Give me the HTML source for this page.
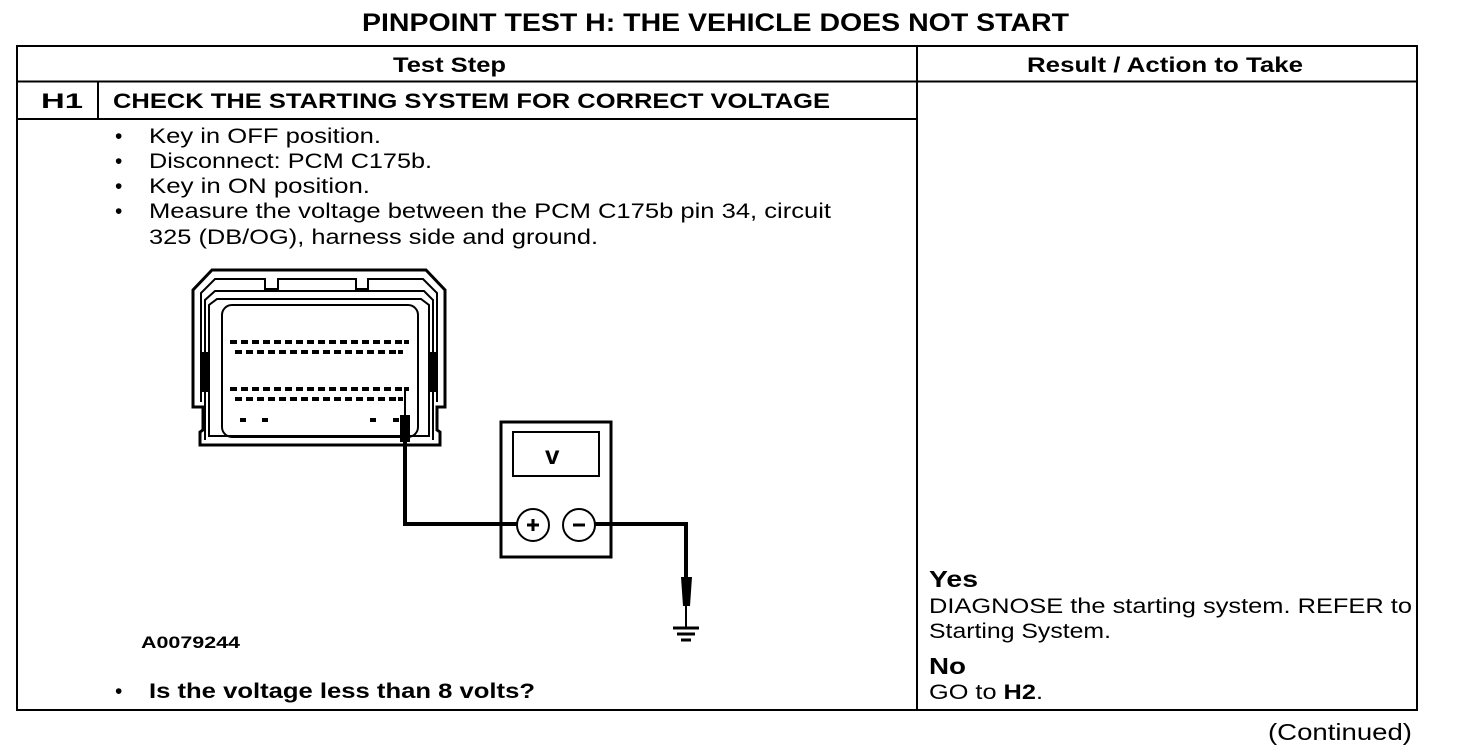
<!DOCTYPE html>
<html><head><meta charset="utf-8"><style>
html,body{margin:0;padding:0;background:#fff;}
svg{display:block;}
text{font-family:"Liberation Sans",Arial,sans-serif;fill:#000;}
.b{font-weight:bold;}
</style></head><body>
<svg width="1472" height="748" viewBox="0 0 1472 748" xmlns="http://www.w3.org/2000/svg">
<!-- title -->
<text x="362" y="31" class="b" font-size="25" textLength="707" lengthAdjust="spacingAndGlyphs">PINPOINT TEST H: THE VEHICLE DOES NOT START</text>
<!-- table -->
<g stroke="#000" stroke-width="2" fill="none">
<rect x="17" y="46" width="1400" height="664"/>
<line x1="17" y1="81.5" x2="1417" y2="81.5"/>
<line x1="917" y1="46" x2="917" y2="710"/>
<line x1="17" y1="119" x2="917" y2="119"/>
<line x1="98" y1="81" x2="98" y2="119"/>
</g>
<text x="393" y="72" class="b" font-size="21" textLength="113" lengthAdjust="spacingAndGlyphs">Test Step</text>
<text x="1027" y="72" class="b" font-size="21" textLength="276" lengthAdjust="spacingAndGlyphs">Result / Action to Take</text>
<text x="41" y="108" class="b" font-size="21" textLength="42" lengthAdjust="spacingAndGlyphs">H1</text>
<text x="113" y="108" class="b" font-size="21" textLength="717" lengthAdjust="spacingAndGlyphs">CHECK THE STARTING SYSTEM FOR CORRECT VOLTAGE</text>
<!-- bullets -->
<g font-size="21">
<text x="115" y="143">•</text><text x="149" y="143" textLength="232" lengthAdjust="spacingAndGlyphs">Key in OFF position.</text>
<text x="115" y="168">•</text><text x="149" y="168" textLength="283" lengthAdjust="spacingAndGlyphs">Disconnect: PCM C175b.</text>
<text x="115" y="193">•</text><text x="149" y="193" textLength="221" lengthAdjust="spacingAndGlyphs">Key in ON position.</text>
<text x="115" y="218">•</text><text x="149" y="218" textLength="682" lengthAdjust="spacingAndGlyphs">Measure the voltage between the PCM C175b pin 34, circuit</text>
<text x="149" y="244" textLength="449" lengthAdjust="spacingAndGlyphs">325 (DB/OG), harness side and ground.</text>
<text x="115" y="698">•</text><text x="149" y="698" class="b" textLength="386" lengthAdjust="spacingAndGlyphs">Is the voltage less than 8 volts?</text>
</g>
<text x="141" y="648" class="b" font-size="17" textLength="99" lengthAdjust="spacingAndGlyphs">A0079244</text>
<!-- right column -->
<text x="929" y="587" class="b" font-size="23" textLength="49" lengthAdjust="spacingAndGlyphs">Yes</text>
<text x="929" y="613" font-size="21" textLength="483" lengthAdjust="spacingAndGlyphs">DIAGNOSE the starting system. REFER to</text>
<text x="929" y="638" font-size="21" textLength="182" lengthAdjust="spacingAndGlyphs">Starting System.</text>
<text x="929" y="674" class="b" font-size="23" textLength="37" lengthAdjust="spacingAndGlyphs">No</text>
<text x="929" y="699" font-size="21" textLength="114" lengthAdjust="spacingAndGlyphs">GO to <tspan class="b">H2</tspan>.</text>
<text x="1268" y="740" font-size="23" textLength="144" lengthAdjust="spacingAndGlyphs">(Continued)</text>

<!-- connector -->
<g stroke="#000" fill="none" stroke-width="3">
<path d="M193,407 L193,290 L212,270 L426,270 L445,290 L445,407 L437,407 L437,430 L440,432 L440,445 L200,445 L200,432 L203,430 L203,407 Z"/>
<path stroke-width="2" d="M201,402 L201,293 L215,279 L265,279 L265,289 L278,289 L278,279 L356,279 L356,289 L368,289 L368,279 L423,279 L437,293 L437,402"/>
<path stroke-width="2" d="M205,440 L205,300 L215,291 L424,291 L433,300 L433,440"/>
<path stroke-width="2" d="M209,436 L209,305 L217,299 L421,299 L429,305 L429,436 Z"/>
<rect x="222" y="305" width="196" height="132" rx="10" stroke-width="2"/>
</g>
<rect x="202" y="352" width="7" height="40" fill="#000"/>
<rect x="430" y="352" width="7" height="40" fill="#000"/>
<g fill="#000">
<g id="r1">
<rect x="230" y="340" width="7" height="4"/><rect x="241" y="340" width="7" height="4"/><rect x="252" y="340" width="7" height="4"/><rect x="263" y="340" width="7" height="4"/><rect x="274" y="340" width="7" height="4"/><rect x="285" y="340" width="7" height="4"/><rect x="296" y="340" width="7" height="4"/><rect x="307" y="340" width="7" height="4"/><rect x="318" y="340" width="7" height="4"/><rect x="329" y="340" width="7" height="4"/><rect x="340" y="340" width="7" height="4"/><rect x="351" y="340" width="7" height="4"/><rect x="362" y="340" width="7" height="4"/><rect x="373" y="340" width="7" height="4"/><rect x="384" y="340" width="7" height="4"/><rect x="395" y="340" width="7" height="4"/><rect x="404" y="340" width="5" height="4"/>
</g>
<g id="r2">
<rect x="235" y="350" width="7" height="4"/><rect x="246" y="350" width="7" height="4"/><rect x="257" y="350" width="7" height="4"/><rect x="268" y="350" width="7" height="4"/><rect x="279" y="350" width="7" height="4"/><rect x="290" y="350" width="7" height="4"/><rect x="301" y="350" width="7" height="4"/><rect x="312" y="350" width="7" height="4"/><rect x="323" y="350" width="7" height="4"/><rect x="334" y="350" width="7" height="4"/><rect x="345" y="350" width="7" height="4"/><rect x="356" y="350" width="7" height="4"/><rect x="367" y="350" width="7" height="4"/><rect x="378" y="350" width="7" height="4"/><rect x="389" y="350" width="7" height="4"/><rect x="398" y="350" width="5" height="4"/>
</g>
<use href="#r1" y="47"/>
<use href="#r2" y="47"/>
<rect x="240" y="418" width="6" height="4"/><rect x="262" y="418" width="6" height="4"/><rect x="370" y="418" width="6" height="4"/><rect x="393" y="418" width="6" height="4"/>
<rect x="400" y="415" width="10" height="27"/>
</g>
<!-- wires -->
<g stroke="#000" fill="none">
<line x1="405" y1="390" x2="405" y2="415" stroke-width="2"/>
<polyline points="405,440 405,524 517,524" stroke-width="4"/>
<polyline points="595,524 686,524 686,578" stroke-width="4"/>
<line x1="686" y1="606" x2="686" y2="628" stroke-width="2"/>
<!-- meter -->
<rect x="501" y="422" width="110" height="135" stroke-width="3"/>
<rect x="513" y="432" width="86" height="44" stroke-width="2"/>
<circle cx="533" cy="525" r="16" stroke-width="2"/>
<circle cx="579" cy="525" r="16" stroke-width="2"/>
<line x1="527" y1="525" x2="539" y2="525" stroke-width="3"/>
<line x1="533" y1="519" x2="533" y2="531" stroke-width="3"/>
<line x1="573" y1="525" x2="585" y2="525" stroke-width="3"/>
<line x1="673" y1="628" x2="699" y2="628" stroke-width="3"/>
<line x1="677" y1="634" x2="695" y2="634" stroke-width="3"/>
<line x1="681" y1="640" x2="691" y2="640" stroke-width="3"/>
</g>
<path d="M681,577 L692,577 L690,606 L683,606 Z" fill="#000"/>
<text x="545" y="464" class="b" font-size="26">v</text>
</svg>
</body></html>
